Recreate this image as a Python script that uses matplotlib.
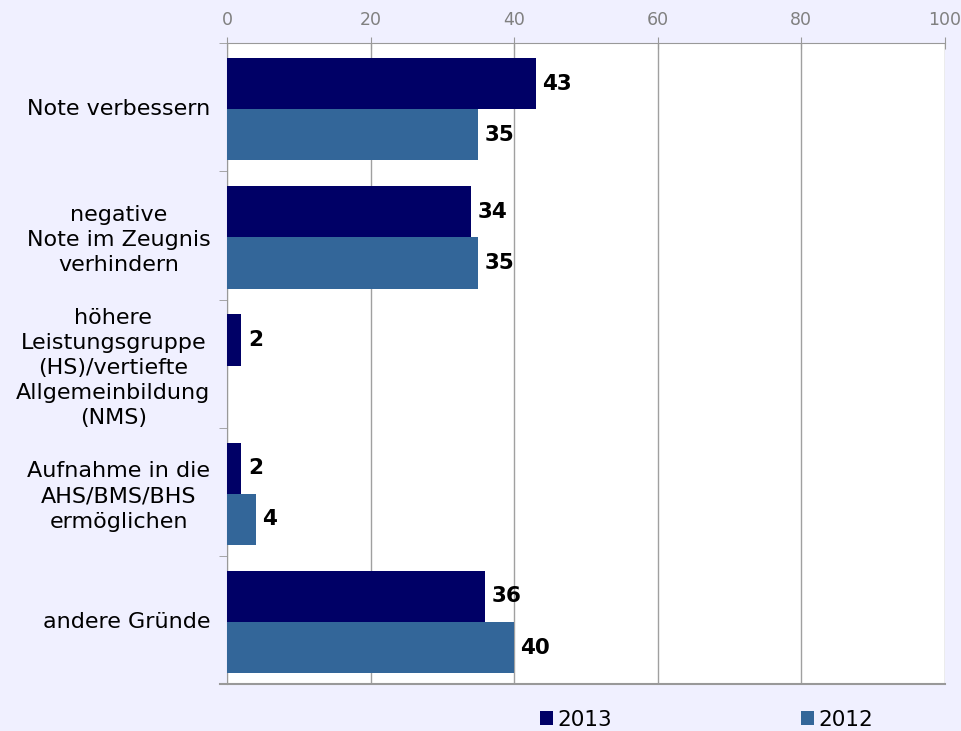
import matplotlib.pyplot as plt
import numpy as np

categories = ["Note verbessern", "negative\nNote im Zeugnis\nverhindern",
              "höhere\nLeistungsgruppe\n(HS)/vertiefte\nAllgemeinbildung\n(NMS)",
              "Aufnahme in die\nAHS/BMS/BHS\nermöglichen", "andere Gründe"]
vals_2013 = [43, 34, 2, 2, 36]
vals_2012 = [35, 35, None, 4, 40]
x_ticks = [0, 20, 40, 60, 80, 100]

bg = "#F0F0FF"
c13 = "#000066"
c12 = "#336699"

fig = plt.figure(figsize=(9.62, 7.31), dpi=100, facecolor=bg)
ax = fig.add_axes([0.236, 0.064, 0.746, 0.877])
ax.set_facecolor("white")

y = np.arange(len(categories))
h = 0.4
v12 = [v if v is not None else 0 for v in vals_2012]
b13 = ax.barh(y - h / 2 + 0.015, vals_2013, height=h, color=c13, label="2013", zorder=3)
b12 = ax.barh(y + h / 2 + 0.015, v12, height=h, color=c12, label="2012", zorder=3)

for i, v in enumerate(vals_2013):
    ax.text(v + 0.9, y[i] - h / 2 + 0.015, str(v), va="center", ha="left",
            fontsize=15.5, fontweight="bold", color="black")
for i, v in enumerate(vals_2012):
    if v is None:
        continue
    ax.text(v + 0.9, y[i] + h / 2 + 0.015, str(v), va="center", ha="left",
            fontsize=15.5, fontweight="bold", color="black")

ax.set_xlim(0, 100)
ax.set_ylim(len(categories) - 0.5, -0.5)
ax.xaxis.tick_top()
ax.set_xticks(x_ticks)
ax.set_xticklabels([str(t) for t in x_ticks], fontsize=12.5, color="#808080",
                   family="Liberation Sans Narrow")
ax.tick_params(axis="x", direction="inout", length=8, color="#999999", pad=6)
ax.grid(axis="x", color="#a0a0a0", linewidth=1, zorder=0)

ax.set_yticks(y)
ax.set_yticklabels(categories, fontsize=16, ha="right", multialignment="center",
                   linespacing=1.32)
ax.tick_params(axis="y", length=0, pad=12)
ax.set_yticks(np.arange(-0.5, len(categories)), minor=True)
ax.tick_params(axis="y", which="minor", length=6, color="#999999", direction="out")

for s in ["right", "bottom"]:
    ax.spines[s].set_visible(False)
ax.spines["left"].set_color("#999999")
ax.spines["top"].set_color("#999999")
ax.axhline(len(categories) - 0.5, color="#999999", lw=1.5, xmin=-0.01, clip_on=False, zorder=4)

fig.legend(handles=[b13, b12], loc="lower left", bbox_to_anchor=(0.541, -0.025),
           ncol=2, frameon=False, fontsize=15.5, handlelength=0.6, handleheight=0.6,
           handletextpad=0.2, columnspacing=8.8)

fig.savefig("out.png", dpi=100, facecolor=bg)
